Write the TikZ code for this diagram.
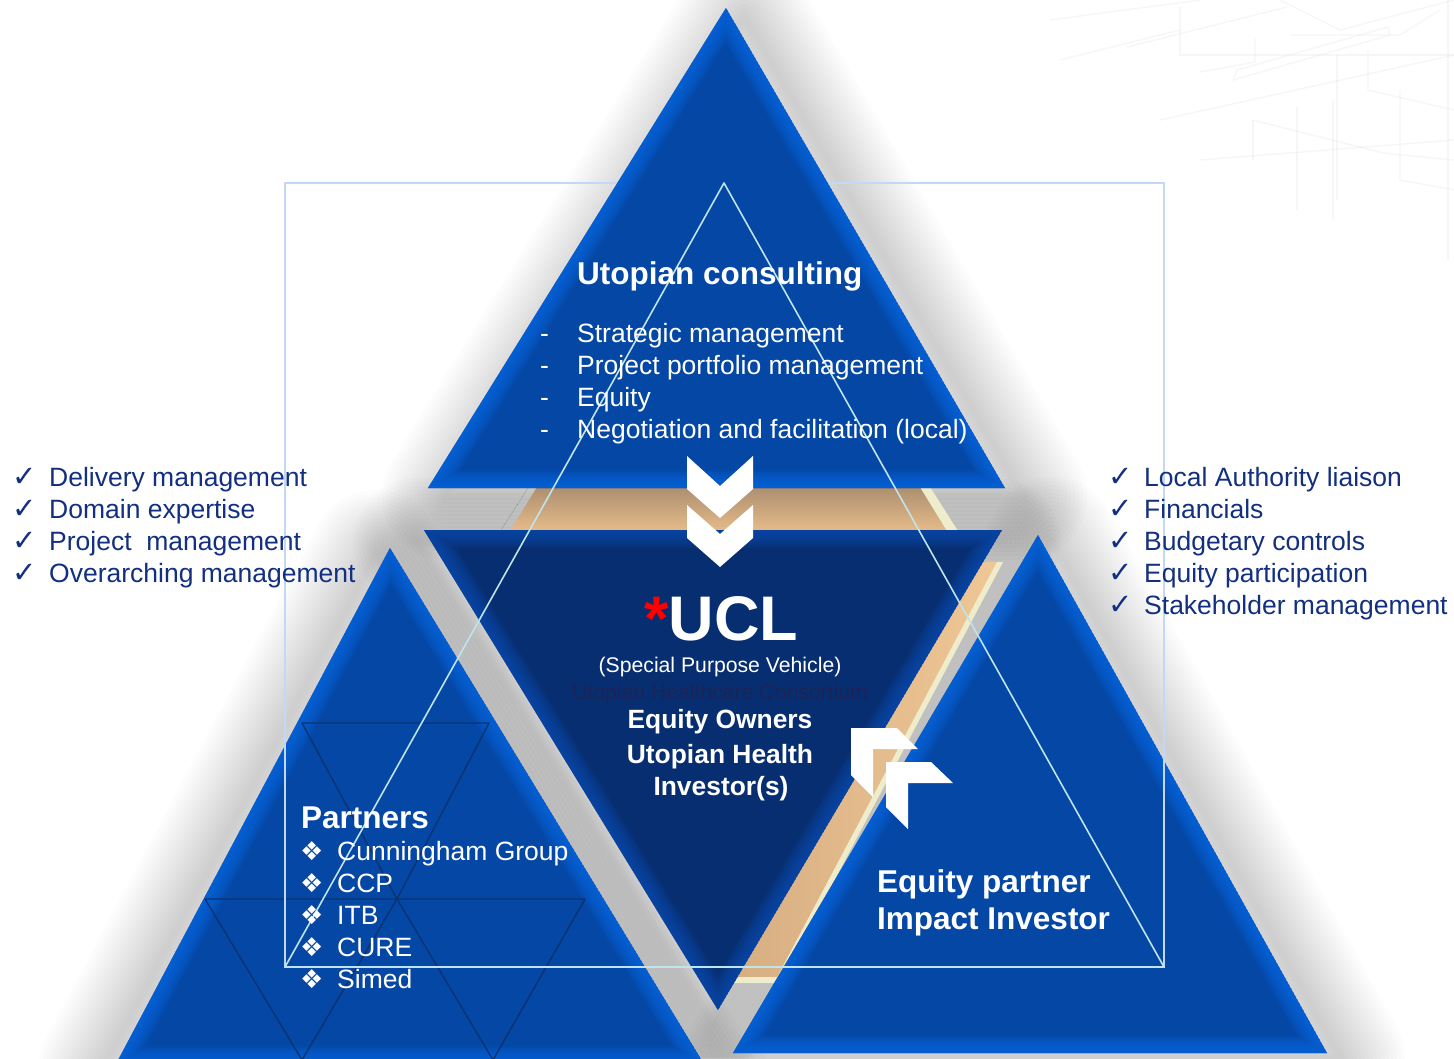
\documentclass[tikz,border=0pt]{standalone}
\usepackage{fontspec}
\setmainfont{Liberation Sans}
\newfontfamily\symfont{DejaVu Sans}
\definecolor{navytxt}{HTML}{12307F}
\definecolor{triblue}{HTML}{0447A5}
\definecolor{edgeblue}{HTML}{0A6CEA}
\definecolor{ucldark}{HTML}{072E70}
\definecolor{ucledge}{HTML}{0B50BA}
\definecolor{tanA}{HTML}{AC8F70}
\definecolor{tanB}{HTML}{E6BB89}
\definecolor{tanL}{HTML}{D6AE82}
\definecolor{tanR}{HTML}{F0C896}
\definecolor{paleY}{HTML}{EFECCB}
\definecolor{cyanline}{HTML}{BFE4EC}
\definecolor{rectline}{HTML}{C2D8F6}
\definecolor{gridnavy}{HTML}{0B3272}
\definecolor{consort}{HTML}{1B2459}
\definecolor{sketch}{HTML}{E2E2E2}
\newcommand\fsA{\fontsize{26.5}{32}\selectfont}
\newcommand\fsB{\fontsize{31.5}{37}\selectfont\bfseries}
\newcommand\fsC{\fontsize{21.2}{26}\selectfont}
\newcommand\fsD{\fontsize{26.4}{33}\selectfont\bfseries}
\begin{document}
\begin{tikzpicture}[x=1pt,y=-1pt,
  triT/.style={insert path={(726,8)--(428,488)--(1005,488)--cycle}},
  triL/.style={insert path={(390,548)--(116,1064)--(704,1064)--cycle}},
  triR/.style={insert path={(1038,535)--(733,1053)--(1327,1053)--cycle}},
  triC/.style={insert path={(424,530)--(1002,530)--(718,1010)--cycle}},
  glowstroke/.style={black, opacity=0.0135, line join=round},
  bevel/.style={opacity=0.12},
  lst/.style={inner sep=0pt, anchor=base west, text=navytxt, font=\fsA},
  chk/.style={inner sep=0pt, anchor=base west, text=navytxt, font=\fontsize{29}{30}\selectfont\symfont},
  wtxt/.style={inner sep=0pt, anchor=base west, text=white, font=\fsA},
  wbold/.style={inner sep=0pt, anchor=base west, text=white, font=\fsB},
  ctr/.style={inner sep=0pt, anchor=base, text=white},
  dia/.style={inner sep=0pt, anchor=base west, text=white, font=\fontsize{26}{28}\selectfont\symfont},
  sk/.style={sketch, line width=1.3pt, opacity=0.3},
]
\useasboundingbox (0,0) rectangle (1454,1058);
\clip (0,0) rectangle (1454,1058);
\fill[white] (0,0) rectangle (1454,1058);

% faint architectural sketch (top right)
\draw[sk] (1180,7)--(1180,55)--(1454,55);
\draw[sk] (1127,47)--(1287,7);
\draw[sk] (1233,80)--(1390,35)--(1388,27)--(1237,70)--cycle;
\draw[sk] (1200,72)--(1255,62)--(1255,38);
\draw[sk] (1448,0)--(1448,260);
\draw[sk] (1337,55)--(1337,200);
\draw[sk] (1368,50)--(1368,90)--(1454,110);
\draw[sk] (1253,120)--(1383,153)--(1454,160);
\draw[sk] (1253,120)--(1253,160);
\draw[sk] (1297,107)--(1297,210);
\draw[sk] (1333,100)--(1333,220);
\draw[sk] (1050,20)--(1200,0);
\draw[sk] (1160,120)--(1454,55);
\draw[sk] (1280,0)--(1340,30)--(1454,0);
\draw[sk] (1060,60)--(1180,30);
\draw[sk] (1290,35)--(1400,35)--(1440,10);
\draw[sk] (1200,160)--(1454,140);
\draw[sk] (1400,90)--(1400,180)--(1454,190);

% glows / shadows
\foreach \w in {8,16,...,128}{
  \draw[glowstroke, line width=\w pt, shift={(18,8)}, triT];
  \draw[glowstroke, line width=\w pt, shift={(-14,6)}, triL];
  \draw[glowstroke, line width=\w pt, shift={(14,6)}, triR];
  \draw[glowstroke, line width=\w pt, shift={(-6,12)}, triC];
}

% tan band between top and centre
\shade[top color=tanA, bottom color=tanB] (537,487)--(920,487)--(947,531)--(510,531)--cycle;
\fill[paleY] (920,487)--(930,487)--(958,531)--(947,531)--cycle;
\draw[gray, densely dotted, line width=0.6pt] (528,488)--(501,530);
% tan stripe along the right of the centre
\shade[left color=tanL, right color=tanR] (980,562)--(1003,562)--(778,983)--(734,983)--cycle;
\fill[paleY] (997,562)--(1003,562)--(780,983)--(774,983)--cycle;
\fill[paleY] (737,977)--(781,977)--(778,983)--(734,983)--cycle;

% left triangle
\begin{scope}
  \clip[triL];
  \fill[triblue, triL];
  \foreach \w in {4,8,...,36}{\draw[edgeblue, bevel, line width=\w pt, triL];}
  \draw[gridnavy, line width=1.4pt, line join=round]
    (302,723)--(489,723)--(397,899)--cycle
    (205,899)--(585,899)
    (205,899)--(302,1060)--(397,899)
    (397,899)--(493,1060)--(585,899);
\end{scope}
% right triangle
\begin{scope}
  \clip[triR];
  \fill[triblue, triR];
  \foreach \w in {4,8,...,36}{\draw[edgeblue, bevel, line width=\w pt, triR];}
\end{scope}
% centre triangle
\begin{scope}
  \clip[triC];
  \fill[ucldark, triC];
  \foreach \w in {4,8,...,36}{\draw[ucledge, bevel, line width=\w pt, triC];}
\end{scope}

% thin rectangle
\draw[rectline, line width=1.2pt] (285,183) rectangle (1164,967);

% top triangle
\begin{scope}
  \clip[triT];
  \fill[triblue, triT];
  \foreach \w in {4,8,...,36}{\draw[edgeblue, bevel, line width=\w pt, triT];}
\end{scope}

% big light triangle
\draw[cyanline, line width=1.6pt, line join=round] (724,183)--(285,967)--(1164,967)--cycle;

% chevrons
\fill[white] (687,456)--(720,486)--(753,456)--(753,489)--(720,518)--(687,489)--cycle;
\fill[white] (687,505)--(720,534)--(753,505)--(753,538)--(720,567)--(687,538)--cycle;
% corner arrows
\fill[white] (851,728)--(897,728)--(918,749)--(873,749)--(873,797)--(851,775)--cycle;
\fill[white] (886,762)--(931,762)--(953,783)--(908,783)--(908,829)--(886,807)--cycle;

% top triangle text
\node[wbold] (uc) at (577,284) {Utopian consulting};
\node[wtxt] (d1) at (540,342) {-};
\node[wtxt] (t1) at (577,342) {Strategic management};
\node[wtxt] (d2) at (540,374) {-};
\node[wtxt] (t2) at (577,374) {Project portfolio management};
\node[wtxt] (d3) at (540,406) {-};
\node[wtxt] (t3) at (577,406) {Equity};
\node[wtxt] (d4) at (540,438) {-};
\node[wtxt] (t4) at (577,438) {Negotiation and facilitation (local)};

% left list
\node[chk] (lc1) at (12,486) {✓};
\node[lst] (l1) at (49,486) {Delivery management};
\node[chk] (lc2) at (12,518) {✓};
\node[lst] (l2) at (49,518) {Domain expertise};
\node[chk] (lc3) at (12,550) {✓};
\node[lst] (l3) at (49,550) {Project\ \ management};
\node[chk] (lc4) at (12,582) {✓};
\node[lst] (l4) at (49,582) {Overarching management};

% right list
\node[chk] (rc1) at (1108,486) {✓};
\node[lst] (r1) at (1144,486) {Local Authority liaison};
\node[chk] (rc2) at (1108,518) {✓};
\node[lst] (r2) at (1144,518) {Financials};
\node[chk] (rc3) at (1108,550) {✓};
\node[lst] (r3) at (1144,550) {Budgetary controls};
\node[chk] (rc4) at (1108,582) {✓};
\node[lst] (r4) at (1144,582) {Equity participation};
\node[chk] (rc5) at (1108,614) {✓};
\node[lst] (r5) at (1144,614) {Stakeholder management};

% centre text
\node[ctr, font=\fontsize{63}{70}\selectfont\bfseries] (ucl) at (721,640) {\textcolor{red}{*}UCL};
\node[ctr, font=\fsC] (spv) at (720,672) {(Special Purpose Vehicle)};
\node[ctr, font=\fsC, text=consort] (uhc) at (720,699) {Utopian Healthcare Consortium};
\node[ctr, font=\fsD] (eo) at (720,728) {Equity Owners};
\node[ctr, font=\fsD] (uh) at (720,763) {Utopian Health};
\node[ctr, font=\fsD] (inv) at (721,795) {Investor(s)};

% partners
\node[wbold] (pt) at (301,828) {Partners};
\node[dia] (pb1) at (300,860) {❖};
\node[wtxt] (p1) at (337,860) {Cunningham Group};
\node[dia] (pb2) at (300,892) {❖};
\node[wtxt] (p2) at (337,892) {CCP};
\node[dia] (pb3) at (300,924) {❖};
\node[wtxt] (p3) at (337,924) {ITB};
\node[dia] (pb4) at (300,956) {❖};
\node[wtxt] (p4) at (337,956) {CURE};
\node[dia] (pb5) at (300,988) {❖};
\node[wtxt] (p5) at (337,988) {Simed};

% equity partner
\node[wbold] (ep) at (877,892) {Equity partner};
\node[wbold] (ii) at (877,929) {Impact Investor};
\end{tikzpicture}
\end{document}
